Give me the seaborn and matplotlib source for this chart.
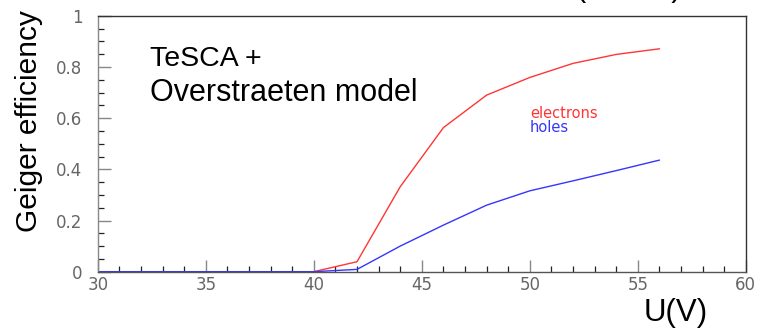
import matplotlib
matplotlib.use("Agg")
import matplotlib.pyplot as plt
import seaborn as sns
import pandas as pd
from matplotlib.ticker import MultipleLocator

voltage = [30, 32, 34, 36, 38, 40, 42, 44, 46, 48, 50, 52, 54, 56]
electrons = [0, 0, 0, 0, 0, 0, 0.039, 0.332, 0.563, 0.69, 0.759, 0.814, 0.849, 0.871]
holes = [0, 0, 0, 0, 0, 0, 0.009, 0.10, 0.182, 0.26, 0.316, 0.355, 0.395, 0.436]
series_names = ["electrons", "holes"]
series_colors = ["#ff3535", "#3535ff"]
x_ticks = [30, 35, 40, 45, 50, 55, 60]
x_labels = ["30", "35", "40", "45", "50", "55", "60"]
y_ticks = [0, 0.2, 0.4, 0.6, 0.8, 1]
y_labels = ["0", "0.2", "0.4", "0.6", "0.8", "1"]

df = pd.DataFrame({
    "U": voltage * 2,
    "eff": electrons + holes,
    "carrier": [series_names[0]] * len(voltage) + [series_names[1]] * len(voltage),
})

sns.set_style("white")
plt.rcParams['font.family'] = ['Liberation Sans', 'DejaVu Sans']
plt.rcParams['text.color'] = 'black'

fig = plt.figure(figsize=(7.58, 3.30), dpi=100)
ax = fig.add_axes([0.129, 0.1767, 0.855, 0.7755])

sns.lineplot(data=df, x="U", y="eff", hue="carrier", palette=series_colors,
             hue_order=series_names, linewidth=1.0, ax=ax, legend=False)

ax.set_xlim(30, 60)
ax.set_ylim(0, 1)
ax.xaxis.set_minor_locator(MultipleLocator(1))
ax.yaxis.set_minor_locator(MultipleLocator(0.05))
ax.set_xticks(x_ticks)
ax.set_xticklabels(x_labels)
ax.set_yticks(y_ticks)
ax.set_yticklabels(y_labels)

ax.tick_params(axis="both", which="major", direction="in", length=9, width=1.0,
               color="#888888", labelsize=12, labelcolor="#666666",
               left=True, bottom=True, top=False, right=False)
ax.tick_params(axis="both", which="minor", direction="in", length=4.5, width=0.9,
               color="#222222", left=True, bottom=True, top=False, right=False)
ax.tick_params(axis="x", which="major", pad=3)
ax.tick_params(axis="y", which="major", pad=11)
for lab in ax.get_xticklabels() + ax.get_yticklabels():
    lab.set_family("DejaVu Sans")

for side in ["top", "right"]:
    ax.spines[side].set_color("#333333")
    ax.spines[side].set_linewidth(1.0)
ax.spines["left"].set_color("#888888")
ax.spines["bottom"].set_color("#555555")
ax.spines["left"].set_linewidth(1.0)
ax.spines["bottom"].set_linewidth(1.0)

ax.set_xlabel("")
ax.set_ylabel("")

fig.text(0.038, 0.632, "Geiger efficiency", rotation=90, ha="center", va="center",
         fontsize=21.5)
fig.text(0.891, 0.027, "U(V)", ha="center", va="baseline", fontsize=22.5)

ax.text(0.081, 0.83, "TeSCA +", transform=ax.transAxes, fontsize=20.5,
        ha="left", va="center")
ax.text(0.081, 0.70, "Overstraeten model", transform=ax.transAxes, fontsize=22,
        ha="left", va="center")

ax.text(50.0, 0.617, series_names[0], color=series_colors[0], fontsize=10.5,
        family="DejaVu Sans", ha="left", va="center")
ax.text(50.0, 0.563, series_names[1], color=series_colors[1], fontsize=10.5,
        family="DejaVu Sans", ha="left", va="center")

# partially cropped title at the top
fig.text(0.830, 1.012, "(          )", ha="center", va="baseline", fontsize=22)

fig.savefig("out.png", dpi=100)
